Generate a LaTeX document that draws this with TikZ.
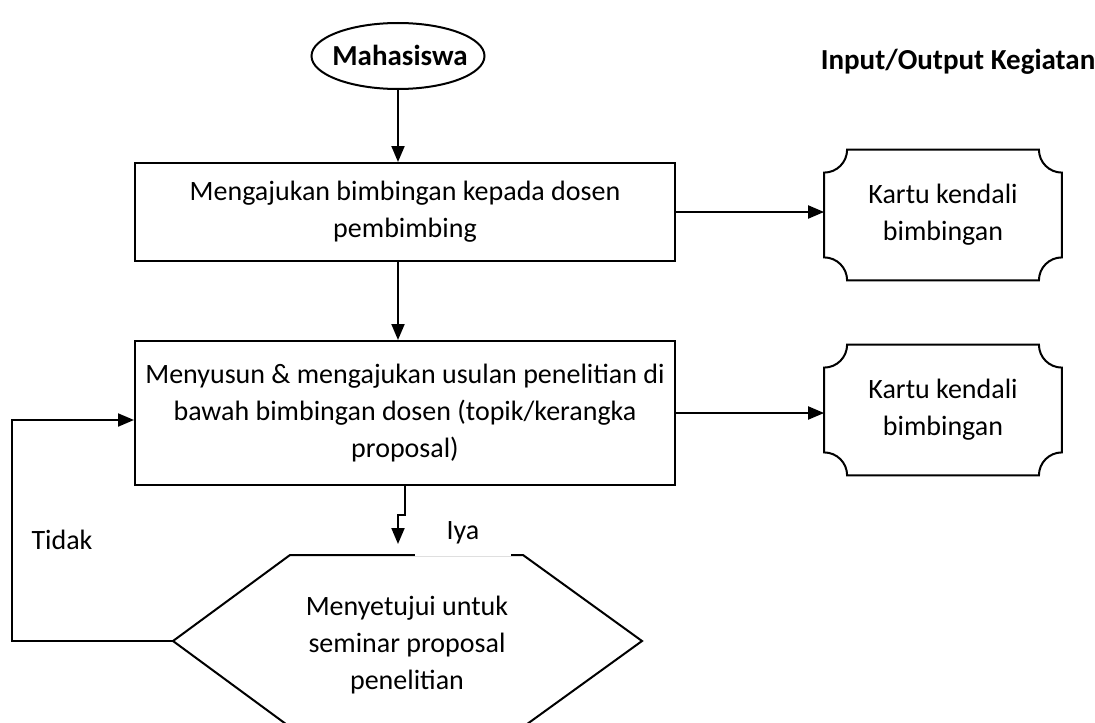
\documentclass[tikz,border=0pt]{standalone}
\usepackage{fontspec}
\setmainfont{Carlito}
\usetikzlibrary{shapes.geometric,arrows.meta,calc}

\tikzset{
  garis/.style={line width=1pt},
  panah/.style={garis, -{Triangle[width=6.5pt,length=8pt]}},
  proses/.style={draw, garis, rectangle, minimum width=270pt, align=center},
  kartu/.style={minimum width=118.5pt, minimum height=65pt, align=center},
  teks/.style={font=\fontsize{14}{18.5}\selectfont},
}

% kartu (plaque) dengan sudut cekung
\newcommand{\plakat}[1]{%
  \draw[garis] ($(#1.north west)+(0,\rr)$) -- ($(#1.south west)+(0,-\rr)$)
    arc[start angle=-90,end angle=0,radius=\rr] -- ($(#1.south east)+(-\rr,0)$)
    arc[start angle=180,end angle=270,radius=\rr] -- ($(#1.north east)+(0,\rr)$)
    arc[start angle=90,end angle=180,radius=\rr] -- ($(#1.north west)+(\rr,0)$)
    arc[start angle=0,end angle=90,radius=\rr] -- cycle;}
\newcommand{\rr}{23}

\begin{document}
\begin{tikzpicture}[x=0.5pt, y=-0.5pt, teks]

      \useasboundingbox (0,0) rectangle (1095,722);

      \node[draw, garis, ellipse, minimum width=86.5pt, minimum height=33pt] (mhs) at (398,56) {};
      \node[font=\fontsize{14.5}{18.5}\selectfont\bfseries] at (400,55) {Mahasiswa};
      \node[font=\fontsize{14.5}{18.5}\selectfont\bfseries] (judul) at (958,62) {Input/Output Kegiatan};

      \node[proses, minimum height=49pt] (ajukan) at (405,212) {Mengajukan bimbingan kepada dosen\\pembimbing};
      \node[proses, minimum height=72pt] (susun) at (405,413) {Menyusun \& mengajukan usulan penelitian di\\bawah bimbingan dosen (topik/kerangka\\proposal)};

      \node[kartu] (kartu1) at (943,215) {Kartu kendali\\bimbingan};
      \node[kartu] (kartu2) at (943,410) {Kartu kendali\\bimbingan};
      \plakat{kartu1}
      \plakat{kartu2}

      % keputusan
      \draw[garis] (290,555) -- (523,555) -- (642,641) -- (523,727) -- (290,727) -- (173,641) -- cycle;
      \coordinate (hexL) at (173,641);
      \node[align=center] (setuju) at (407,645) {Menyetujui untuk\\seminar proposal\\penelitian};
      \node[fill=white, minimum width=48pt, minimum height=23pt] (iya) at (463,533) {Iya};
      \node (tidak) at (62,540) {Tidak};

      \draw[panah] (mhs.south) -- (mhs.south |- ajukan.north);
      \draw[panah] (mhs.south |- ajukan.south) -- (mhs.south |- susun.north);
      \draw[panah] (ajukan.east) -- (ajukan.east -| kartu1.west);
      \draw[panah] (susun.east) -- (susun.east -| kartu2.west);

      \coordinate (belok) at ($(susun.south)+(0,29)$);
      \draw[panah] (susun.south) -- (belok) -- (belok -| mhs.south) -- ++(0,29);

      \coordinate (balik) at (12,420);
      \draw[panah] (hexL) -| (balik) -- (balik -| susun.west);

    \end{tikzpicture}
\end{document}
